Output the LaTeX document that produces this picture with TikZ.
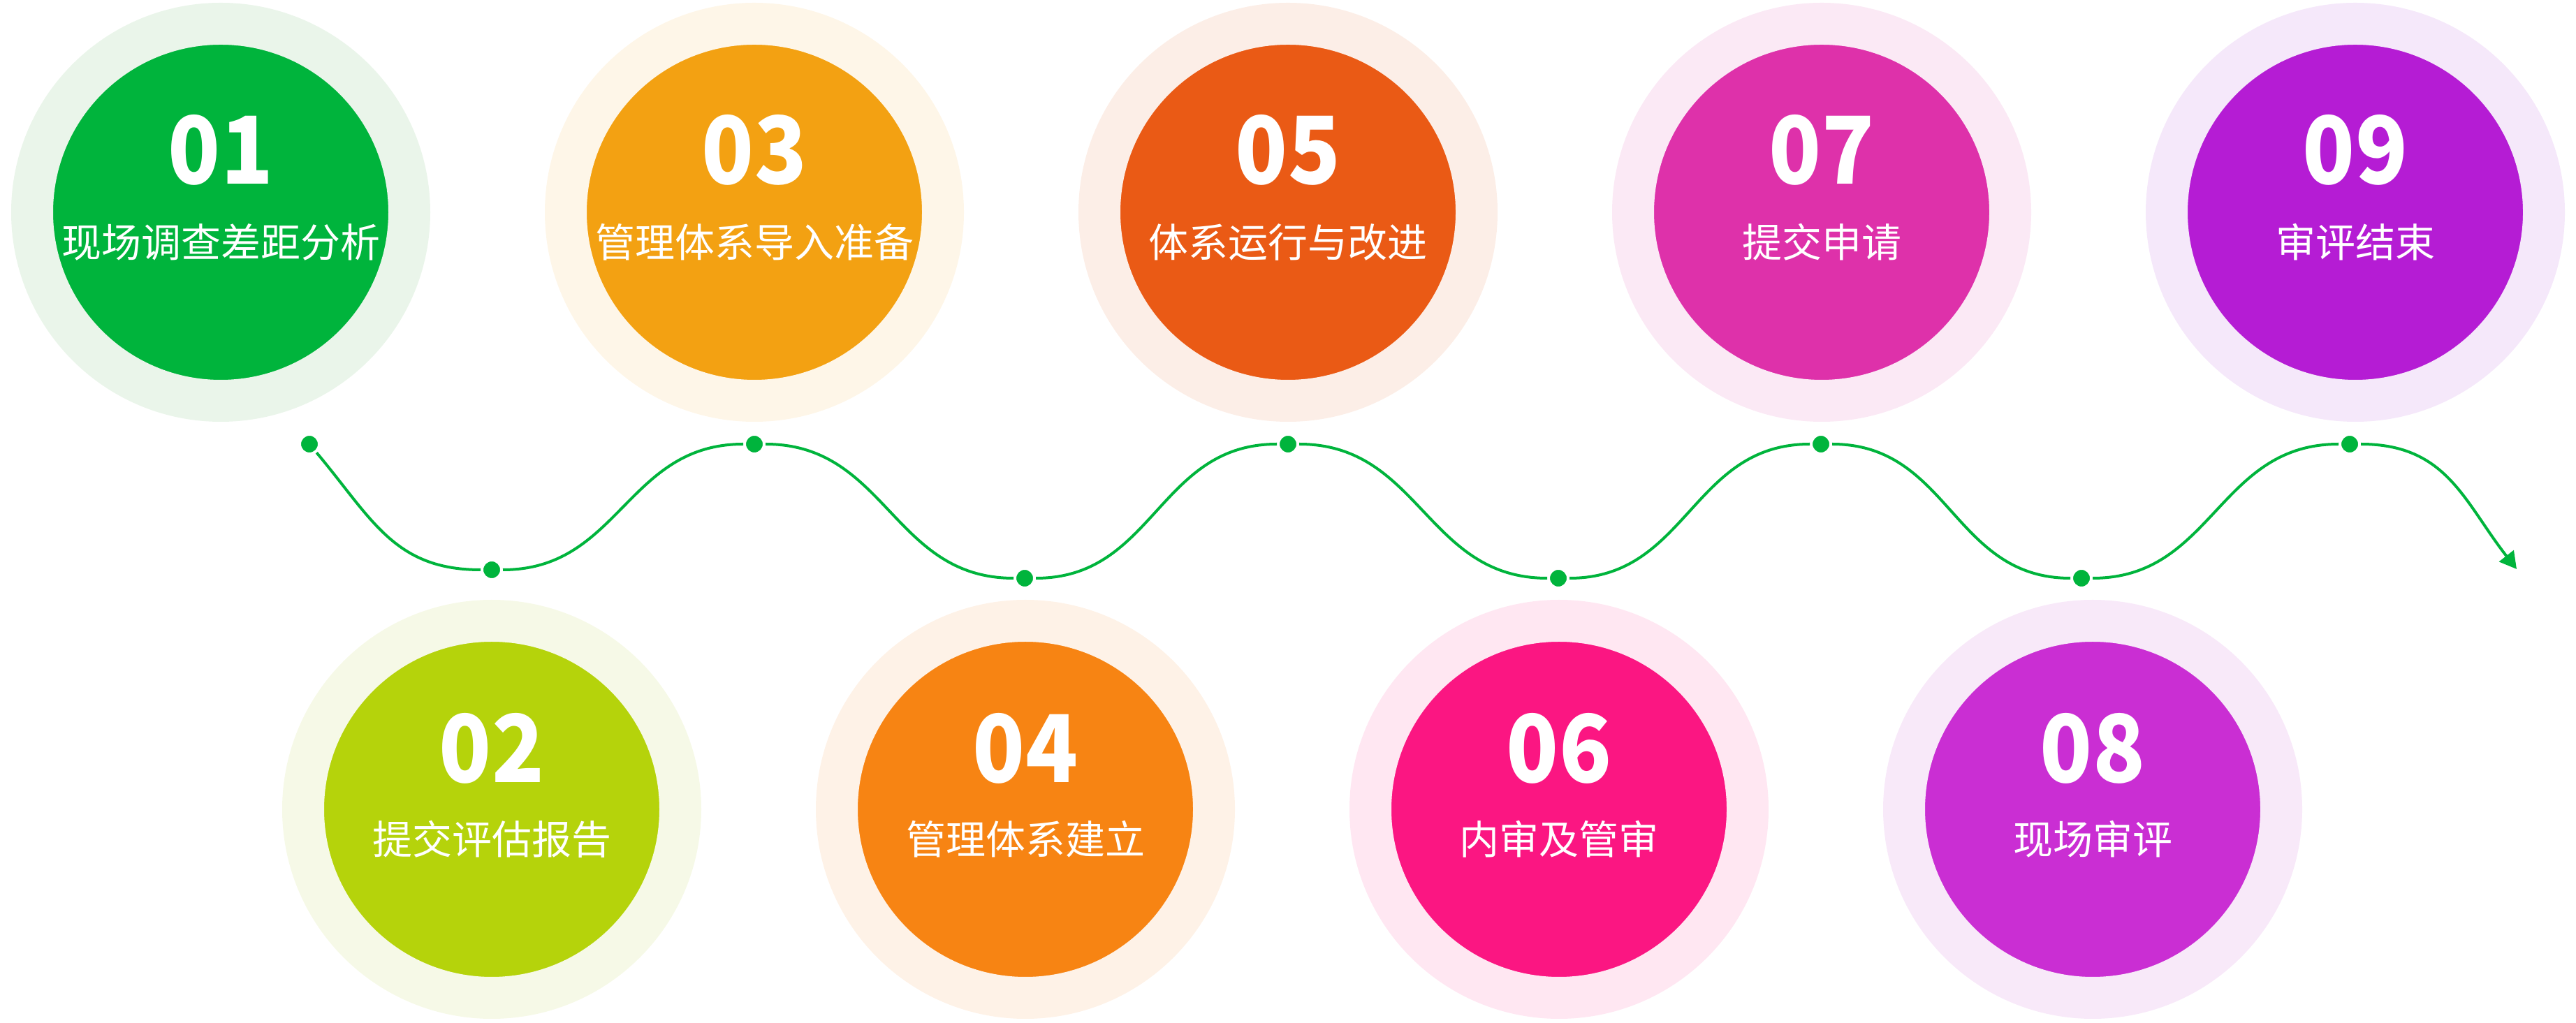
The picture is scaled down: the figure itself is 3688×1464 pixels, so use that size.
\documentclass[tikz,border=0pt]{standalone}
\usepackage{fontspec}
\setmainfont{Noto Sans CJK SC}
\newfontfamily\numfont[FakeStretch=0.92]{Noto Sans CJK SC}
\usepackage{tikz}
\usetikzlibrary{arrows.meta}
\usetikzlibrary{positioning}
\definecolor{wavegreen}{RGB}{0,180,60}
\definecolor{c01}{RGB}{0,180,60}    \definecolor{c01l}{RGB}{234,245,234}
\definecolor{c02}{RGB}{181,211,11}  \definecolor{c02l}{RGB}{246,249,231}
\definecolor{c03}{RGB}{243,161,18}  \definecolor{c03l}{RGB}{254,246,232}
\definecolor{c04}{RGB}{247,132,19}  \definecolor{c04l}{RGB}{254,242,231}
\definecolor{c05}{RGB}{234,90,21}   \definecolor{c05l}{RGB}{252,238,231}
\definecolor{c06}{RGB}{251,22,130}  \definecolor{c06l}{RGB}{255,231,242}
\definecolor{c07}{RGB}{222,49,170}  \definecolor{c07l}{RGB}{251,233,245}
\definecolor{c08}{RGB}{202,46,211}  \definecolor{c08l}{RGB}{248,233,249}
\definecolor{c09}{RGB}{181,28,212}  \definecolor{c09l}{RGB}{245,232,250}
\tikzset{
    stage/.style={circle, minimum size=540pt, line width=60pt, inner sep=0pt},
    num/.style={anchor=base, text=white, font=\numfont\fontsize{134}{134}\selectfont\bfseries},
    caption/.style={anchor=base, text=white, font=\fontsize{57}{57}\selectfont},
    dot/.style={circle, fill=wavegreen, draw=white, line width=4pt, minimum size=28pt, inner sep=0pt},
    wave/.style={draw=wavegreen, line width=4pt, looseness=1.1},
    % arrow at the end of the wave
    wavetip/.style={-{Triangle[length=24pt,width=26pt]}}
}
\begin{document}
\begin{tikzpicture}[x=1pt,y=1pt]
	\useasboundingbox (0,0) rectangle (3688,1464);
	\node[stage, fill=c01, draw=c01l] (s01) at (316,1160) {};
	\node[stage, fill=c02, draw=c02l] (s02) at (704,305) {};
	\node[stage, fill=c03, draw=c03l] (s03) at (1080,1160) {};
	\node[stage, fill=c04, draw=c04l] (s04) at (1468,305) {};
	\node[stage, fill=c05, draw=c05l] (s05) at (1844,1160) {};
	\node[stage, fill=c06, draw=c06l] (s06) at (2232,305) {};
	\node[stage, fill=c07, draw=c07l] (s07) at (2608,1160) {};
	\node[stage, fill=c08, draw=c08l] (s08) at (2996,305) {};
	\node[stage, fill=c09, draw=c09l] (s09) at (3372,1160) {};
	\node[num] (n01) at ([yshift=40pt]s01.center) {01};
	\node[num] (n02) at ([yshift=38pt]s02.center) {02};
	\node[num] (n03) at ([yshift=40pt]s03.center) {03};
	\node[num] (n04) at ([yshift=38pt]s04.center) {04};
	\node[num] (n05) at ([yshift=40pt]s05.center) {05};
	\node[num] (n06) at ([yshift=38pt]s06.center) {06};
	\node[num] (n07) at ([yshift=40pt]s07.center) {07};
	\node[num] (n08) at ([yshift=38pt]s08.center) {08};
	\node[num] (n09) at ([yshift=40pt]s09.center) {09};
	\node[caption] (t01) at ([yshift=-65pt]s01.center) {现场调查差距分析};
	\node[caption] (t02) at ([yshift=-65pt]s02.center) {提交评估报告};
	\node[caption] (t03) at ([yshift=-65pt]s03.center) {管理体系导入准备};
	\node[caption] (t04) at ([yshift=-65pt]s04.center) {管理体系建立};
	\node[caption] (t05) at ([yshift=-65pt]s05.center) {体系运行与改进};
	\node[caption] (t06) at ([yshift=-65pt]s06.center) {内审及管审};
	\node[caption] (t07) at ([yshift=-65pt]s07.center) {提交申请};
	\node[caption] (t08) at ([yshift=-65pt]s08.center) {现场审评};
	\node[caption] (t09) at ([yshift=-65pt]s09.center) {审评结束};
	\node[dot] (d1) at (443,828) {};
	\node[dot] (d2) at (704,648) {};
	\node[dot] (d3) at (1080,828) {};
	\node[dot] (d4) at (1467,636) {};
	\node[dot] (d5) at (1844,828) {};
	\node[dot] (d6) at (2231,636) {};
	\node[dot] (d7) at (2607,828) {};
	\node[dot] (d8) at (2980,636) {};
	\node[dot] (d9) at (3364,828) {};
	\coordinate (tip) at (3603,649);
	\draw[wave] (d1) to[out=-50,in=180] (d2) to[out=0,in=180] (d3)
		to[out=0,in=180] (d4) to[out=0,in=180] (d5) to[out=0,in=180] (d6)
		to[out=0,in=180] (d7) to[out=0,in=180] (d8) to[out=0,in=180] (d9);
	\draw[wave, wavetip] (d9) to[out=0,in=128] (tip);
\end{tikzpicture}
\end{document}
